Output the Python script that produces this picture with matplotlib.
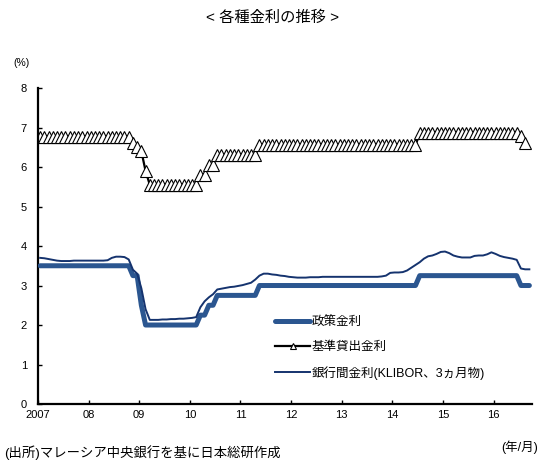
import numpy as np
import matplotlib
matplotlib.use('Agg')
import matplotlib.pyplot as plt

plt.rcParams['font.family'] = ['Liberation Sans', 'Noto Sans CJK JP']

# monthly data, Jan 2007 - Sep 2016 (plotted at mid-month)
opr = [
    3.5, 3.5, 3.5, 3.5, 3.5, 3.5, 3.5, 3.5, 3.5, 3.5, 3.5, 3.5,
    3.5, 3.5, 3.5, 3.5, 3.5, 3.5, 3.5, 3.5, 3.5, 3.5, 3.25, 3.25,
    2.5, 2.0, 2.0, 2.0, 2.0, 2.0, 2.0, 2.0, 2.0, 2.0, 2.0, 2.0,
    2.0, 2.0, 2.25, 2.25, 2.5, 2.5, 2.75, 2.75, 2.75, 2.75, 2.75, 2.75,
    2.75, 2.75, 2.75, 2.75, 3.0, 3.0, 3.0, 3.0, 3.0, 3.0, 3.0, 3.0,
    3.0, 3.0, 3.0, 3.0, 3.0, 3.0, 3.0, 3.0, 3.0, 3.0, 3.0, 3.0,
    3.0, 3.0, 3.0, 3.0, 3.0, 3.0, 3.0, 3.0, 3.0, 3.0, 3.0, 3.0,
    3.0, 3.0, 3.0, 3.0, 3.0, 3.0, 3.25, 3.25, 3.25, 3.25, 3.25, 3.25,
    3.25, 3.25, 3.25, 3.25, 3.25, 3.25, 3.25, 3.25, 3.25, 3.25, 3.25, 3.25,
    3.25, 3.25, 3.25, 3.25, 3.25, 3.25, 3.0, 3.0, 3.0,
]

blr = [
    6.75, 6.75, 6.75, 6.75, 6.75, 6.75, 6.75, 6.75, 6.75, 6.75, 6.75, 6.75,
    6.75, 6.75, 6.75, 6.75, 6.75, 6.75, 6.75, 6.75, 6.75, 6.75, 6.6, 6.5,
    6.4, 5.9, 5.55, 5.55, 5.55, 5.55, 5.55, 5.55, 5.55, 5.55, 5.55, 5.55,
    5.55, 5.55, 5.8, 5.8, 6.05, 6.05, 6.3, 6.3, 6.3, 6.3, 6.3, 6.3,
    6.3, 6.3, 6.3, 6.3, 6.55, 6.55, 6.55, 6.55, 6.55, 6.55, 6.55, 6.55,
    6.55, 6.55, 6.55, 6.55, 6.55, 6.55, 6.55, 6.55, 6.55, 6.55, 6.55, 6.55,
    6.55, 6.55, 6.55, 6.55, 6.55, 6.55, 6.55, 6.55, 6.55, 6.55, 6.55, 6.55,
    6.55, 6.55, 6.55, 6.55, 6.55, 6.55, 6.85, 6.85, 6.85, 6.85, 6.85, 6.85,
    6.85, 6.85, 6.85, 6.85, 6.85, 6.85, 6.85, 6.85, 6.85, 6.85, 6.85, 6.85,
    6.85, 6.85, 6.85, 6.85, 6.85, 6.85, 6.78, 6.6,
]

klibor = [
    3.70, 3.69, 3.67, 3.65, 3.63, 3.62, 3.62, 3.62, 3.63, 3.63, 3.63, 3.63,
    3.63, 3.63, 3.63, 3.63, 3.64, 3.70, 3.73, 3.73, 3.72, 3.66, 3.40, 3.30,
    2.93, 2.40, 2.13, 2.13, 2.13, 2.14, 2.14, 2.15, 2.15, 2.16, 2.16, 2.17,
    2.18, 2.20, 2.45, 2.60, 2.70, 2.78, 2.90, 2.92, 2.94, 2.96, 2.97, 2.99,
    3.01, 3.04, 3.07, 3.15, 3.25, 3.30, 3.30, 3.28, 3.27, 3.25, 3.24, 3.22,
    3.21, 3.20, 3.20, 3.20, 3.21, 3.21, 3.21, 3.22, 3.22, 3.22, 3.22, 3.22,
    3.22, 3.22, 3.22, 3.22, 3.22, 3.22, 3.22, 3.22, 3.22, 3.23, 3.25, 3.32,
    3.33, 3.33, 3.34, 3.38, 3.45, 3.52, 3.59, 3.68, 3.74, 3.76, 3.80, 3.85,
    3.86, 3.82, 3.76, 3.73, 3.71, 3.71, 3.71, 3.75, 3.76, 3.76, 3.79, 3.84,
    3.80, 3.75, 3.72, 3.70, 3.68, 3.65, 3.43, 3.41, 3.41,
]

years = [2007, 2008, 2009, 2010, 2011, 2012, 2013, 2014, 2015, 2016]
year_labels = ['2007', '08', '09', '10', '11', '12', '13', '14', '15', '16']


def month_x(n):
    return 2007 + (np.arange(n) + 0.5) / 12


fig = plt.figure(figsize=(5.44, 4.61), dpi=100)
ax = fig.add_axes([0.0699, 0.1236, 0.908, 0.6855])

ax.plot(month_x(len(opr)), opr, color='#2B5690', lw=3.6,
        solid_capstyle='round', solid_joinstyle='round', label='政策金利', zorder=3)
ax.plot(month_x(len(blr)), blr, color='black', lw=1.6, marker='^', ms=8.5,
        mfc='white', mec='black', mew=0.8, label='基準貸出金利', zorder=2)
ax.plot(month_x(len(klibor)), klibor, color='#15336E', lw=1.4,
        label='銀行間金利(KLIBOR、3ヵ月物)', zorder=4)

ax.set_xlim(2007, 2016.76)
ax.set_ylim(0, 8)
ax.set_xticks(years)
ax.set_xticklabels(year_labels)
ax.set_yticks(range(0, 9))

for s in ['top', 'right']:
    ax.spines[s].set_visible(False)
for s in ['left', 'bottom']:
    ax.spines[s].set_linewidth(1.6)
ax.tick_params(axis='both', direction='in', length=3, width=1, labelsize=8)
ax.tick_params(axis='y', pad=8)
ax.tick_params(axis='x', pad=4)

leg = ax.legend(loc='upper left', bbox_to_anchor=(0.47, 0.292), frameon=False,
                fontsize=9, handlelength=2.8, handletextpad=0.1,
                labelspacing=1.0, markerscale=0.5, borderaxespad=0)

fig.text(0.5, 1 - 18 / 461, '< 各種金利の推移 >', ha='center', va='center',
         fontsize=11)
fig.text(22 / 544, 1 - 63 / 461, '(%)', ha='center', va='center', fontsize=7.5)
fig.text(520 / 544, 1 - 447 / 461, '(年/月)', ha='center', va='center', fontsize=9)
fig.text(4 / 544, 1.5 / 461, '(出所)マレーシア中央銀行を基に日本総研作成',
         ha='left', va='bottom', fontsize=9.6)

fig.savefig('out.png', dpi=100)
